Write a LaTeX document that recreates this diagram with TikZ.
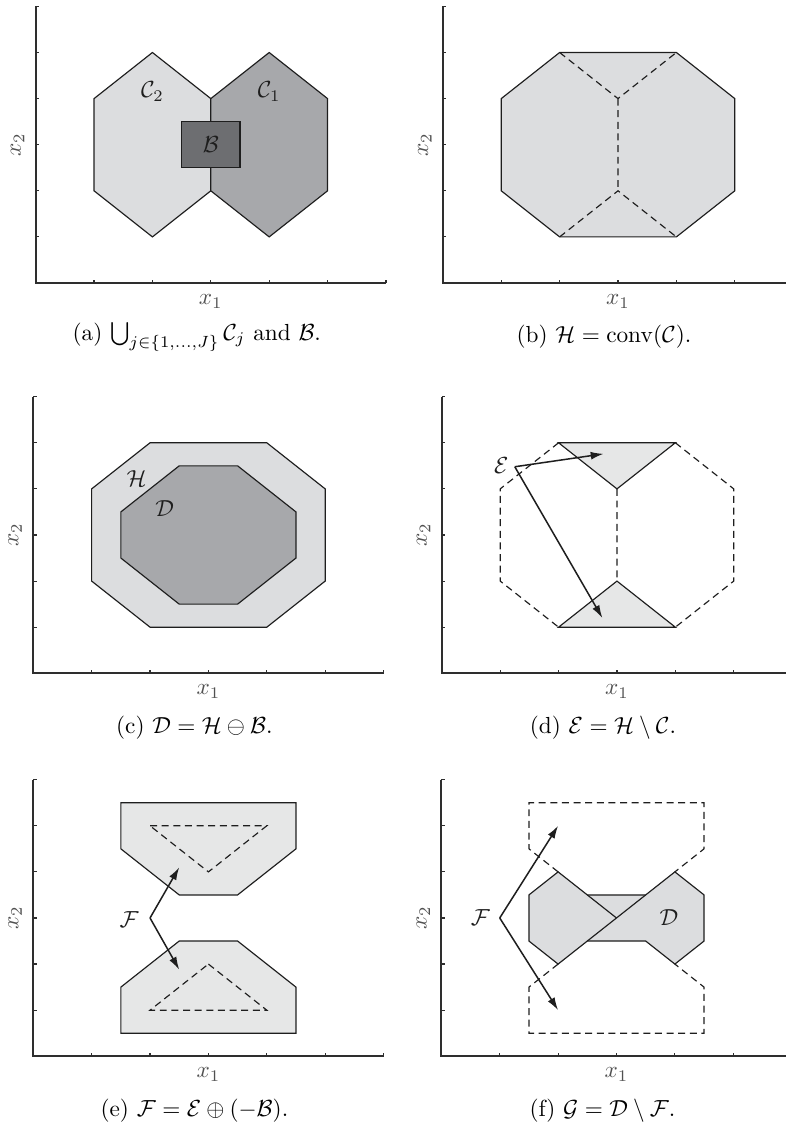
\documentclass[tikz,border=0pt]{standalone}
\usepackage{amsmath,amssymb}
\usepackage{xcolor}
\usepackage{tikz}
\usetikzlibrary{arrows.meta}
\definecolor{msInk}{HTML}{1E1E1E}
\definecolor{msAxis}{HTML}{2E2E2E}
\definecolor{msMuted}{HTML}{505050}
\definecolor{msLight}{HTML}{DCDDDF}
\definecolor{msPale}{HTML}{E6E7E7}
\definecolor{msMid}{HTML}{A7A8AB}
\definecolor{msDark}{HTML}{6D6E71}
\tikzset{
  ms diagram/.style={text=msInk, line join=miter},
  ms axis/.style={draw=msAxis, line width=0.85pt},
  ms tick/.style={draw=msAxis, line width=0.5pt},
  ms region/.style={draw=msInk, line width=0.5pt},
  ms hidden/.style={draw=msInk, line width=0.5pt, dash pattern=on 3pt off 2pt},
  ms arrow/.style={-{Latex[length=5.5pt,width=3.4pt]}, draw=msInk, line width=0.65pt},
  ms label/.style={text=msMuted},
  ms caption/.style={text=black}
}

\begin{document}
\begin{tikzpicture}[ms diagram,x=25.1pt,y=19.82pt]
\useasboundingbox (0,0) rectangle (13.459,24.382);
% axes, ticks and captions of the six panels
\foreach \ox/\oy/\tag/\subcap in {
  0.611/18.243/a/{(a) $\bigcup_{j\in\{1,\dots,J\}}\mathcal{C}_j$ and $\mathcal{B}$.},
  7.586/18.243/b/{(b) $\mathcal{H}=\mathrm{conv}(\mathcal{C})$.},
  0.570/9.777/c/{(c) $\mathcal{D}=\mathcal{H}\ominus\mathcal{B}$.},
  7.568/9.777/d/{(d) $\mathcal{E}=\mathcal{H}\setminus\mathcal{C}$.},
  0.570/1.469/e/{(e) $\mathcal{F}=\mathcal{E}\oplus(-\mathcal{B})$.},
  7.560/1.469/f/{(f) $\mathcal{G}=\mathcal{D}\setminus\mathcal{F}$.}}{
  \begin{scope}[shift={(\ox,\oy)}]
  \draw[ms axis] (0,6) -- (0,0) -- (6,0);
  \foreach \k in {1,...,6}{
    \draw[ms tick] (\k,0) -- ++(0,0.075);
    \draw[ms tick] (0,\k) -- ++(0.057,0);
  }
  \node[ms label] (xone\tag) at (3,-0.40) {$x_1$};
  \node[ms label,rotate=90] (xtwo\tag) at (-0.31,3) {$x_2$};
  \node[ms caption] (cap\tag) at (2.76,-1.17) {\subcap};
  \end{scope}
}
% (a) the sets C_1, C_2 and B
\begin{scope}[shift={(0.611,18.243)}]
\filldraw[ms region,fill=msLight] (2,5) -- (3,4) -- (3,2) -- (2,1) -- (1,2) -- (1,4) -- cycle;
\filldraw[ms region,fill=msMid] (4,5) -- (5,4) -- (5,2) -- (4,1) -- (3,2) -- (3,4) -- cycle;
\filldraw[ms region,fill=msDark] (2.5,2.5) rectangle (3.5,3.5);
\node (ctwo) at (2,4.15) {$\mathcal{C}_2$};
\node (cone) at (4,4.15) {$\mathcal{C}_1$};
\node (bset) at (3,3) {$\mathcal{B}$};
\end{scope}
% (b) convex hull
\begin{scope}[shift={(7.586,18.243)}]
\filldraw[ms region,fill=msLight] (2,5) -- (4,5) -- (5,4) -- (5,2) -- (4,1) -- (2,1) -- (1,2) -- (1,4) -- cycle;
\draw[ms hidden] (2,5) -- (3,4) -- (4,5) (3,4) -- (3,2) (2,1) -- (3,2) -- (4,1);
\end{scope}
% (c) erosion
\begin{scope}[shift={(0.570,9.777)}]
\filldraw[ms region,fill=msLight] (2,5) -- (4,5) -- (5,4) -- (5,2) -- (4,1) -- (2,1) -- (1,2) -- (1,4) -- cycle;
\filldraw[ms region,fill=msMid] (1.5,3.5) -- (2.5,4.5) -- (3.5,4.5) -- (4.5,3.5) -- (4.5,2.5) -- (3.5,1.5) -- (2.5,1.5) -- (1.5,2.5) -- cycle;
\node (hset) at (1.77,4.22) {$\mathcal{H}$};
\node (dset) at (2.25,3.58) {$\mathcal{D}$};
\end{scope}
% (d) difference
\begin{scope}[shift={(7.568,9.777)}]
\draw[ms hidden] (2,5) -- (1,4) -- (1,2) -- (2,1) (4,5) -- (5,4) -- (5,2) -- (4,1) (3,4) -- (3,2);
\filldraw[ms region,fill=msPale] (2,5) -- (4,5) -- (3,4) -- cycle;
\filldraw[ms region,fill=msPale] (3,2) -- (4,1) -- (2,1) -- cycle;
\node (eset) at (1.02,4.5) {$\mathcal{E}$};
\coordinate (eroot) at (1.25,4.48);
\coordinate (etop) at (2.77,4.76);
\coordinate (ebot) at (2.75,1.2);
\draw[ms arrow] (eroot) -- (etop);
\draw[ms arrow] (eroot) -- (ebot);
\end{scope}
% (e) dilation
\begin{scope}[shift={(0.570,1.469)}]
\filldraw[ms region,fill=msPale] (1.5,5.5) -- (4.5,5.5) -- (4.5,4.5) -- (3.5,3.5) -- (2.5,3.5) -- (1.5,4.5) -- cycle;
\filldraw[ms region,fill=msPale] (2.5,2.5) -- (3.5,2.5) -- (4.5,1.5) -- (4.5,0.5) -- (1.5,0.5) -- (1.5,1.5) -- cycle;
\draw[ms hidden] (2,5) -- (4,5) -- (3,4) -- cycle (3,2) -- (4,1) -- (2,1) -- cycle;
\node (fset) at (1.64,2.97) {$\mathcal{F}$};
\coordinate (froot) at (2,3);
\coordinate (ftop) at (2.5,4.1);
\coordinate (fbot) at (2.5,1.88);
\draw[ms arrow] (froot) -- (ftop);
\draw[ms arrow] (froot) -- (fbot);
\end{scope}
% (f) result
\begin{scope}[shift={(7.560,1.469)}]
\filldraw[ms region,fill=msLight] (1.5,3.5) -- (2,4) -- (2.5,3.5) -- (3.5,3.5) -- (4,4) -- (4.5,3.5) -- (4.5,2.5) -- (4,2) -- (3.5,2.5) -- (2.5,2.5) -- (2,2) -- (1.5,2.5) -- cycle;
\draw[ms region] (2.5,2.5) -- (3.5,3.5) (2.5,3.5) -- (3,3);
\draw[ms hidden] (2,4) -- (1.5,4.5) -- (1.5,5.5) -- (4.5,5.5) -- (4.5,4.5) -- (4,4)
  (2,2) -- (1.5,1.5) -- (1.5,0.5) -- (4.5,0.5) -- (4.5,1.5) -- (4,2);
\node (gdset) at (3.9,3) {$\mathcal{D}$};
\node (gfset) at (0.67,3) {$\mathcal{F}$};
\coordinate (groot) at (1,3);
\coordinate (gtop) at (2,5);
\coordinate (gbot) at (2,1);
\draw[ms arrow] (groot) -- (gtop);
\draw[ms arrow] (groot) -- (gbot);
\end{scope}
\end{tikzpicture}
\end{document}
